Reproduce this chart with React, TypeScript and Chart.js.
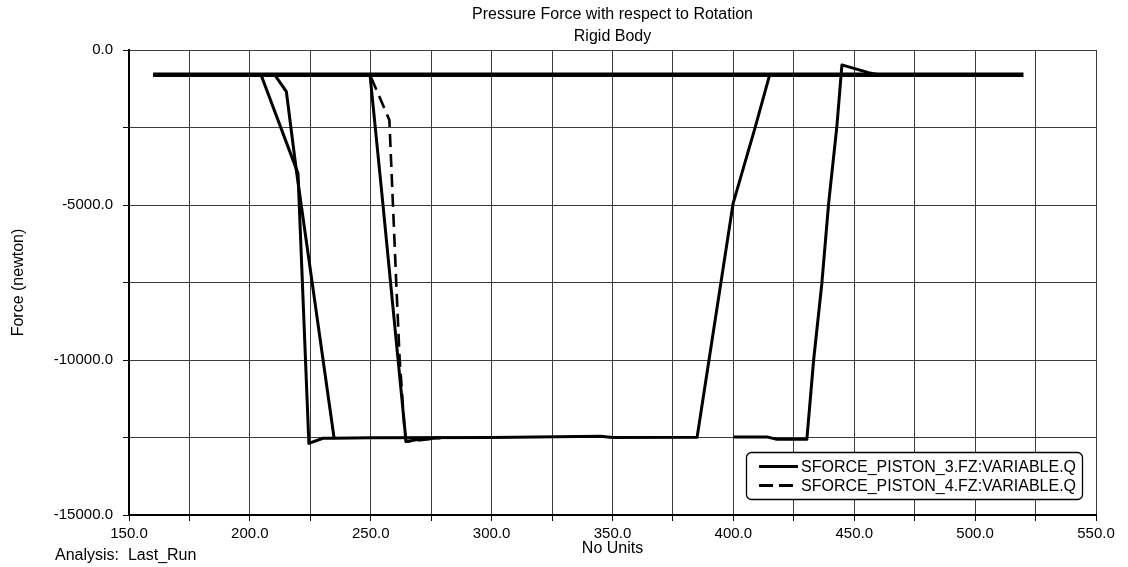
import React, { useEffect, useRef } from 'react';
import { Chart, registerables } from 'chart.js';

Chart.register(...registerables);

const FONT = '"Liberation Sans", Arial, Helvetica, sans-serif';

const TITLE = ['Pressure Force with respect to Rotation', 'Rigid Body'];
const X_TITLE = 'No Units';
const Y_TITLE = 'Force (newton)';
const RUN_LABEL = 'Analysis:  Last_Run';
const SERIES_LABELS = ['SFORCE_PISTON_3.FZ:VARIABLE.Q', 'SFORCE_PISTON_4.FZ:VARIABLE.Q'];

// axis ranges and tick spacing
const X_MIN = 150;
const X_MAX = 550;
const X_STEP = 25;
const X_LABEL_EVERY = 50;
const Y_MIN = -15000;
const Y_MAX = 0;
const Y_STEP = 2500;
const Y_LABEL_EVERY = 5000;

// resting force level
const REST = -800;

// SFORCE_PISTON_3 traces (x: rotation, y: force in newton)
const restX = [160, 520];
const restY = [REST, REST];

const sweepAX = [204.6, 219.9, 224.4, 230.2, 234.3, 250, 300, 345, 350, 385, 399.9, 409.1, 415];
const sweepAY = [REST, -3980, -12690, -12525, -12525, -12510, -12500, -12460, -12500, -12495, -4945, -2470, REST];

const sweepBX = [210.3, 215.1, 219.2, 234.8];
const sweepBY = [REST, -1345, -3870, -12500];

const sweepCX = [249.7, 255, 264.6, 270, 279];
const sweepCY = [REST, -4945, -12630, -12560, -12510];

const sweepDX = [400, 413.9, 418, 430.4, 433.2, 436.6, 439.4, 442.8, 444.9, 455.9, 460];
const sweepDY = [-12480, -12480, -12560, -12560, -10000, -7530, -4945, -2470, -480, -730, REST];

// SFORCE_PISTON_4 trace
const piston4X = [160, 249.7, 257.7, 260.5, 261.9, 264, 264.6, 279];
const piston4Y = [REST, REST, -2260, -7420, -9890, -12260, -12635, -12510];

type Pt = { x: number; y: number | null };

function joinTraces(traces: [number[], number[]][]): Pt[] {
  const out: Pt[] = [];
  traces.forEach(([xs, ys], i) => {
    if (i > 0) out.push({ x: xs[0], y: null });
    xs.forEach((x, k) => out.push({ x, y: ys[k] }));
  });
  return out;
}

const legendAndNotes = {
  id: 'legendAndNotes',
  afterDraw(chart: any) {
    const { ctx, chartArea } = chart;
    ctx.save();
    ctx.fillStyle = '#000';
    ctx.font = `16px ${FONT}`;
    ctx.textBaseline = 'middle';
    ctx.textAlign = 'left';
    ctx.fillText(RUN_LABEL, 55, 556);

    // legend box in the lower right of the plot
    const bw = 336;
    const bh = 47;
    const bx = chartArea.right - 14 - bw;
    const by = chartArea.bottom - 16 - bh;
    ctx.beginPath();
    ctx.roundRect(bx + 0.5, by + 0.5, bw, bh, 5);
    ctx.fillStyle = '#fff';
    ctx.fill();
    ctx.lineWidth = 1.3;
    ctx.strokeStyle = '#000';
    ctx.stroke();

    const rows = [by + 16, by + 35];
    const sx0 = bx + 13;
    const sx1 = bx + 52;
    // solid sample
    ctx.beginPath();
    ctx.lineWidth = 3;
    ctx.setLineDash([]);
    ctx.moveTo(sx0, rows[0] - 1.5);
    ctx.lineTo(sx1, rows[0] - 1.5);
    ctx.stroke();
    // dashed sample
    ctx.beginPath();
    ctx.lineWidth = 2.8;
    ctx.setLineDash([14, 6]);
    ctx.moveTo(sx0, rows[1] - 1.5);
    ctx.lineTo(sx1, rows[1] - 1.5);
    ctx.stroke();
    ctx.setLineDash([]);

    ctx.fillStyle = '#000';
    ctx.font = `16px ${FONT}`;
    ctx.fillText(SERIES_LABELS[0], bx + 55, rows[0]);
    ctx.fillText(SERIES_LABELS[1], bx + 55, rows[1]);
    ctx.restore();
  },
};

export default function App() {
  const canvasRef = useRef<HTMLCanvasElement | null>(null);

  useEffect(() => {
    document.body.style.margin = '0';
    const canvas = canvasRef.current;
    if (!canvas) return;

    const piston3 = joinTraces([
      [restX, restY],
      [sweepAX, sweepAY],
      [sweepBX, sweepBY],
      [sweepCX, sweepCY],
      [sweepDX, sweepDY],
    ]);
    const piston4 = joinTraces([[piston4X, piston4Y]]);

    const chart = new Chart(canvas, {
      type: 'line',
      data: {
        datasets: [
          {
            label: SERIES_LABELS[0],
            data: piston3 as any,
            borderColor: '#000',
            borderWidth: 3,
            pointRadius: 0,
            spanGaps: false,
            tension: 0,
            borderJoinStyle: 'round',
            segment: {
              borderWidth: (c: any) =>
                c.p0.parsed.y === REST && c.p1.parsed.y === REST ? 4.5 : 3,
            },
          },
          {
            label: SERIES_LABELS[1],
            data: piston4 as any,
            borderColor: '#000',
            borderWidth: 2.6,
            borderDash: [13, 7],
            pointRadius: 0,
            spanGaps: false,
            tension: 0,
          },
        ],
      },
      options: {
        responsive: false,
        animation: false,
        devicePixelRatio: 1,
        layout: { padding: { left: 0, right: 32, top: 0, bottom: 0 } },
        plugins: {
          legend: { display: false },
          tooltip: { enabled: false },
          title: {
            display: true,
            text: TITLE,
            color: '#000',
            fullSize: false,
            font: { family: FONT, size: 16, weight: 'normal', lineHeight: 1.375 },
            padding: { top: 4, bottom: 2 },
          },
        },
        scales: {
          x: {
            type: 'linear',
            min: X_MIN,
            max: X_MAX,
            afterFit: (s: any) => {
              s.height = 52;
            },
            ticks: {
              stepSize: X_STEP,
              autoSkip: false,
              maxRotation: 0,
              padding: 4,
              color: '#000',
              font: { family: FONT, size: 15 },
              callback: (v: any) => (Number(v) % X_LABEL_EVERY === 0 ? Number(v).toFixed(1) : ''),
            },
            grid: { color: '#3c3c3c', lineWidth: 1, tickLength: 6, tickColor: '#000' },
            border: { display: true, color: '#000', width: 2 },
            title: {
              display: true,
              text: X_TITLE,
              color: '#000',
              font: { family: FONT, size: 16, lineHeight: 1.2 },
              padding: { top: 0, bottom: 9 },
            },
          },
          y: {
            type: 'linear',
            min: Y_MIN,
            max: Y_MAX,
            afterFit: (s: any) => {
              s.width = 129;
            },
            ticks: {
              stepSize: Y_STEP,
              autoSkip: false,
              padding: 10,
              color: '#000',
              font: { family: FONT, size: 15 },
              callback: (v: any) => (Number(v) % Y_LABEL_EVERY === 0 ? Number(v).toFixed(1) : ''),
            },
            grid: { color: '#3c3c3c', lineWidth: 1, tickLength: 6, tickColor: '#000' },
            border: { display: true, color: '#000', width: 2 },
            title: {
              display: true,
              text: Y_TITLE,
              color: '#000',
              font: { family: FONT, size: 16, lineHeight: 1.2 },
              padding: { top: 9, bottom: 0 },
            },
          },
        },
      },
      plugins: [legendAndNotes],
    });

    return () => chart.destroy();
  }, []);

  return (
    <div style={{ width: 1128, height: 567, background: '#fff' }}>
      <canvas ref={canvasRef} width={1128} height={567} />
    </div>
  );
}
